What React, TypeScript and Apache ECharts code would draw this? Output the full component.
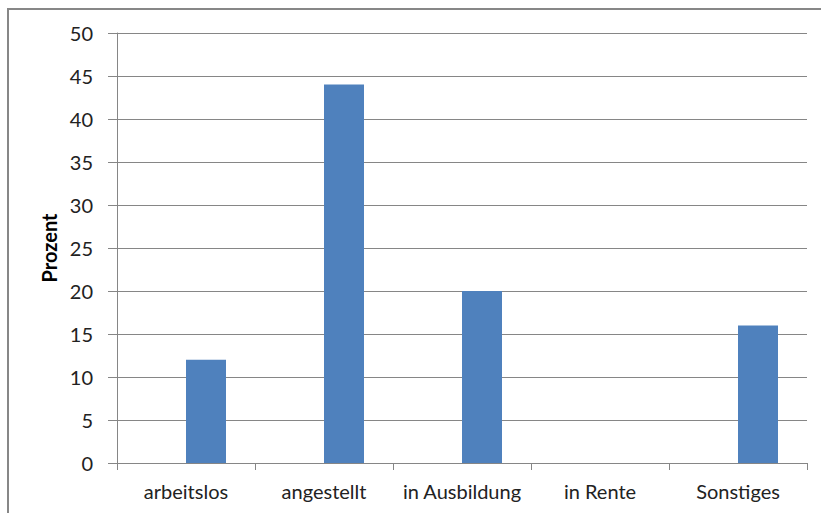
import React, { useEffect, useRef } from "react";
import * as echarts from "echarts";

const categories = ["arbeitslos", "angestellt", "in Ausbildung", "in Rente", "Sonstiges"];
const hiddenValues = [0, 0, 0, 0, 0];
const values = [12, 44, 20, 0, 16];
const yTicks = { min: 0, max: 50, interval: 5 };

export default function App() {
  const ref = useRef<HTMLDivElement>(null);
  useEffect(() => {
    if (!ref.current) return;
    const chart = echarts.init(ref.current, null, { renderer: "svg" });
    const font = "Lato, 'Open Sans', sans-serif";
    chart.setOption({
      animation: false,
      backgroundColor: "#ffffff",
      textStyle: { fontFamily: font },
      graphic: [
        {
          type: "rect",
          shape: { x: 8, y: 9, width: 900, height: 600 },
          style: { fill: "none", stroke: "#878787", lineWidth: 2 },
          silent: true,
        },
      ],
      grid: { left: 117, right: 14, top: 33, bottom: 50, containLabel: false },
      xAxis: {
        type: "category",
        data: categories,
        boundaryGap: true,
        axisLine: { lineStyle: { color: "#868686", width: 1 } },
        axisTick: { show: true, length: 7, alignWithLabel: false, lineStyle: { color: "#868686" } },
        axisLabel: { color: "#222", fontSize: 20, fontFamily: font, margin: 18, interval: 0 },
      },
      yAxis: {
        type: "value",
        min: yTicks.min,
        max: yTicks.max,
        interval: yTicks.interval,
        name: "Prozent",
        nameLocation: "middle",
        nameGap: 57,
        nameTextStyle: { color: "#000", fontSize: 20, fontWeight: "bold", fontFamily: font },
        axisLine: { show: true, lineStyle: { color: "#868686", width: 1 } },
        axisTick: { show: true, length: 9, lineStyle: { color: "#868686" } },
        axisLabel: { color: "#222", fontSize: 20, fontFamily: font, margin: 24 },
        splitLine: { show: true, lineStyle: { color: "#868686", width: 1 } },
      },
      series: [
        {
          type: "bar",
          data: hiddenValues,
          barWidth: 40,
          barGap: "0%",
          itemStyle: { color: "rgba(0,0,0,0)" },
          silent: true,
        },
        {
          type: "bar",
          data: values,
          barWidth: 40,
          barGap: "0%",
          itemStyle: { color: "#4f81bd" },
        },
      ],
    });
    return () => chart.dispose();
  }, []);
  return (
    <div
      ref={ref}
      style={{ position: "fixed", left: 0, top: 0, width: 821, height: 513 }}
    />
  );
}
